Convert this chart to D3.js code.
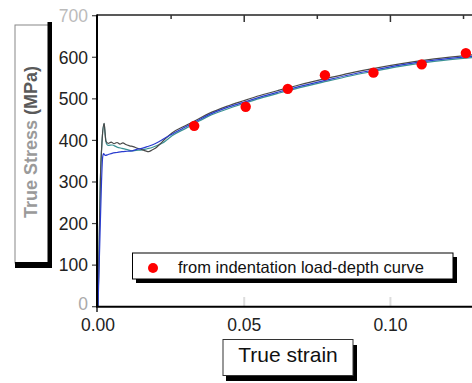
<!DOCTYPE html>
<html><head><meta charset="utf-8">
<script src="https://cdn.jsdelivr.net/npm/d3@7"></script>
<style>
html,body{margin:0;padding:0;background:#fff;}
svg{display:block;font-family:"Liberation Sans",Arial,sans-serif;}
</style></head>
<body>
<svg id="c" width="472" height="383"></svg>
<script>
// ---- data ----
const xTickValues = [0, 0.05, 0.10];
const xTickLabels = ["0.00", "0.05", "0.10"];
const yTickValues = [0, 100, 200, 300, 400, 500, 600, 700];
const yTickLabels = ["0", "100", "200", "300", "400", "500", "600", "700"];
const topMinorTicks = [0.025, 0.075, 0.125];
const topMajorTicks = [0.05, 0.10];

const seriesBlack = [[0,0],[0.0004,150],[0.0008,300],[0.0014,400],[0.0021,441],[0.0023,428],[0.0027,398],[0.0035,393],[0.0045,396],[0.0055,392],[0.0065,395],[0.0075,391],[0.0085,394],[0.0095,390],[0.0108,387],[0.012,385],[0.0135,381],[0.015,378],[0.0162,375],[0.0173,373],[0.0185,377],[0.0196,381],[0.0213,392],[0.023,404],[0.0253,418],[0.03,436],[0.0329,446],[0.038,465],[0.044,482],[0.05,496],[0.0554,508],[0.062,521],[0.069,534],[0.078,549],[0.0862,562],[0.095,574],[0.1033,584],[0.115,596],[0.128,606]];
const seriesTeal = [[0,0],[0.0004,150],[0.0008,300],[0.0014,400],[0.0021,440],[0.0024,418],[0.0029,392],[0.0035,388],[0.0048,389],[0.0065,384],[0.0082,381],[0.01,378],[0.0116,375],[0.013,376],[0.015,377],[0.0168,380],[0.0185,383],[0.02,387],[0.0219,393],[0.0235,401],[0.0253,411],[0.03,429],[0.0329,440],[0.038,459],[0.044,475],[0.05,489],[0.0554,501],[0.062,514],[0.069,527],[0.078,542],[0.0862,555],[0.095,567],[0.1033,578],[0.115,590],[0.128,599]];
const seriesBlue = [[0,0],[0.0006,150],[0.0012,300],[0.0016,360],[0.0019,368],[0.0025,364],[0.0035,366],[0.0048,369],[0.0065,371],[0.0082,373],[0.01,374],[0.0116,375],[0.013,378],[0.015,381],[0.0168,385],[0.0185,389],[0.0208,397],[0.0225,404],[0.0253,415],[0.03,433],[0.0329,443],[0.038,462],[0.044,479],[0.05,492],[0.0554,504],[0.062,517],[0.069,530],[0.078,545],[0.0862,558],[0.095,570],[0.1033,581],[0.115,593],[0.128,602]];

const dotStrain = [0.0329, 0.0505, 0.0649, 0.0776, 0.0942, 0.1107, 0.1258];
const dotStress = [435, 481, 524, 557, 563, 583, 610];

const legendLabel = "from indentation load-depth curve";
const xTitle = "True strain";
const yTitleA = "True Stress ";
const yTitleB = "(MPa)";

// ---- chart ----
const svg = d3.select("#c");
const x = d3.scaleLinear().domain([0, 0.1279]).range([98, 472]);
const y = d3.scaleLinear().domain([0, 700]).range([306.7, 15.7]);

// y-axis title box
const yb = svg.append("g");
yb.append("rect").attr("x", 15).attr("y", 25).attr("width", 34).attr("height", 238)
  .attr("fill", "#fff").attr("stroke", "#888").attr("stroke-width", 1);
yb.append("rect").attr("x", 47.5).attr("y", 22).attr("width", 4.5).attr("height", 246).attr("fill", "#000");
yb.append("rect").attr("x", 15).attr("y", 262).attr("width", 37).attr("height", 6).attr("fill", "#000");
const yt = yb.append("text").attr("transform", "translate(37,142) rotate(-90)")
  .attr("text-anchor", "middle").attr("font-size", 18).attr("font-weight", "bold");
yt.append("tspan").attr("fill", "#9a9a9a").text(yTitleA);
yt.append("tspan").attr("fill", "#5a5a5a").text(yTitleB);

// top axis line + inward ticks
svg.append("line").attr("x1", 97).attr("x2", 472).attr("y1", 15).attr("y2", 15).attr("stroke", "#222").attr("stroke-width", 1.5);
svg.selectAll(".tmin").data(topMinorTicks).join("line")
  .attr("x1", d => x(d)).attr("x2", d => x(d)).attr("y1", 15).attr("y2", 19)
  .attr("stroke", "#333").attr("stroke-width", 1.5);
svg.selectAll(".tmaj").data(topMajorTicks).join("line")
  .attr("x1", d => x(d)).attr("x2", d => x(d)).attr("y1", 15).attr("y2", 22)
  .attr("stroke", "#333").attr("stroke-width", 1.5);
// faint inner ticks on bottom axis
svg.selectAll(".bt").data(xTickValues.slice(1)).join("line")
  .attr("x1", d => x(d)).attr("x2", d => x(d)).attr("y1", 297).attr("y2", 306)
  .attr("stroke", "#ddd").attr("stroke-width", 2);

// y ticks + labels
svg.selectAll(".yt").data(yTickValues).join("line")
  .attr("x1", 92).attr("x2", 97).attr("y1", d => y(d)).attr("y2", d => y(d))
  .attr("stroke", "#444").attr("stroke-width", 1.2);
svg.selectAll(".yl").data(yTickValues).join("text")
  .attr("x", 88).attr("y", d => y(d)).attr("dy", (d, i) => i === 0 ? "0.2em" : "0.36em").attr("text-anchor", "end")
  .attr("font-size", 17.5)
  .attr("fill", (d, i) => i === yTickValues.length - 1 ? "#bbb" : (i === 0 ? "#aaa" : "#222"))
  .text((d, i) => yTickLabels[i]);

// x labels
svg.selectAll(".xl").data(xTickValues).join("text")
  .attr("x", d => x(d)).attr("y", 331).attr("text-anchor", "middle")
  .attr("font-size", 17.5).attr("fill", "#222")
  .text((d, i) => xTickLabels[i]);
svg.append("line").attr("x1", 97).attr("x2", 97).attr("y1", 306).attr("y2", 312).attr("stroke", "#222").attr("stroke-width", 1.5);

// curves
const line = d3.line().x(d => x(d[0])).y(d => y(d[1])).curve(d3.curveMonotoneX);
[[seriesTeal, "#3a9294"], [seriesBlack, "#4a4a4a"], [seriesBlue, "#2a3ccf"]].forEach(([s, c]) => {
  svg.append("path").datum(s).attr("d", line).attr("fill", "none")
    .attr("stroke", c).attr("stroke-width", 1.2);
});

svg.append("line").attr("x1", 97).attr("x2", 97).attr("y1", 14.5).attr("y2", 307).attr("stroke", "#000").attr("stroke-width", 2);
svg.append("line").attr("x1", 96).attr("x2", 472).attr("y1", 306.7).attr("y2", 306.7).attr("stroke", "#000").attr("stroke-width", 2);

// red dots
svg.selectAll(".dot").data(dotStrain).join("circle")
  .attr("cx", d => x(d)).attr("cy", (d, i) => y(dotStress[i])).attr("r", 5.2).attr("fill", "#f00");

// legend
const lg = svg.append("g");
lg.append("rect").attr("x", 136).attr("y", 257).attr("width", 321).attr("height", 26).attr("fill", "#000");
lg.append("rect").attr("x", 132.5).attr("y", 253).attr("width", 320.5).attr("height", 26)
  .attr("fill", "#fff").attr("stroke", "#000").attr("stroke-width", 1);
lg.append("circle").attr("cx", 153).attr("cy", 268).attr("r", 5).attr("fill", "#f00");
lg.append("text").attr("x", 178).attr("y", 272.5).attr("font-size", 16.5).attr("fill", "#111").text(legendLabel);

// x title box
const xb = svg.append("g");
xb.append("rect").attr("x", 226).attr("y", 345).attr("width", 131).attr("height", 36).attr("fill", "#000");
xb.append("rect").attr("x", 223).attr("y", 339.5).attr("width", 130).attr("height", 36)
  .attr("fill", "#fff").attr("stroke", "#333").attr("stroke-width", 1);
xb.append("text").attr("x", 288).attr("y", 362).attr("text-anchor", "middle")
  .attr("font-size", 21).attr("fill", "#111").text(xTitle);
</script>
</body></html>
